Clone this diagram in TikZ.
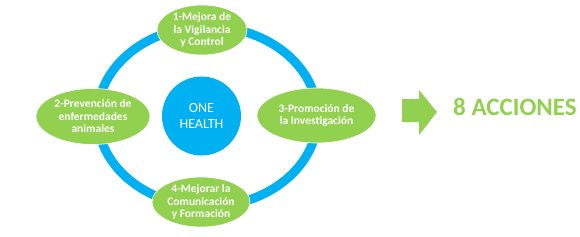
\documentclass[tikz,border=0pt]{standalone}
\usepackage{fontspec}
\setmainfont{Carlito}
\usetikzlibrary{shapes.geometric, arrows.meta, positioning, calc}
\definecolor{ohgreen}{HTML}{92D050}
\definecolor{ohblue}{HTML}{00B0F0}

\begin{document}
\begin{tikzpicture}[
    x=1pt, y=-1pt,
    accion/.style={ellipse, fill=ohgreen, draw=white, line width=0.6pt,
                inner xsep=0pt, inner ysep=-6pt, text=white, align=center,
                font=\bfseries\fontsize{11.5}{12.5}\selectfont},
    nucleo/.style={circle, fill=ohblue, inner sep=0pt, text=white, align=center,
                font=\fontsize{14}{16}\selectfont}
]
    \useasboundingbox (0,0) rectangle (580,236);
    % anillo
    \draw[ohblue, line width=9pt] (207.5,116.5) ellipse [x radius=110, y radius=90];
    \node[nucleo, minimum size=79pt] (oh) at (201.5,116) {ONE\\HEALTH};
    \node[accion, minimum width=90pt, minimum height=50pt] (a1) at (202,30) {1-Mejora de\\la Vigilancia\\y Control};
    \node[accion, minimum width=114pt, minimum height=56pt] (a2) at (93,116.5) {2-Prevención de\\enfermedades\\animales};
    \node[accion, minimum width=119pt, minimum height=55pt] (a3) at (316.5,115.5) {3-Promoción de\\la Investigación};
    \node[accion, minimum width=98pt, minimum height=50pt] (a4) at (201,202) {4-Mejorar la\\Comunicación\\y Formación};
    % flecha
    \fill[ohgreen] (402,99) -- (419,99) -- (419,90) -- (437,112) -- (419,135) -- (419,122) -- (402,122) -- cycle;
    \node[anchor=base west, inner sep=0pt, text=ohgreen, font=\bfseries\fontsize{25}{30}\selectfont] (acc) at (453,115) {8 ACCIONES};
\end{tikzpicture}
\end{document}
